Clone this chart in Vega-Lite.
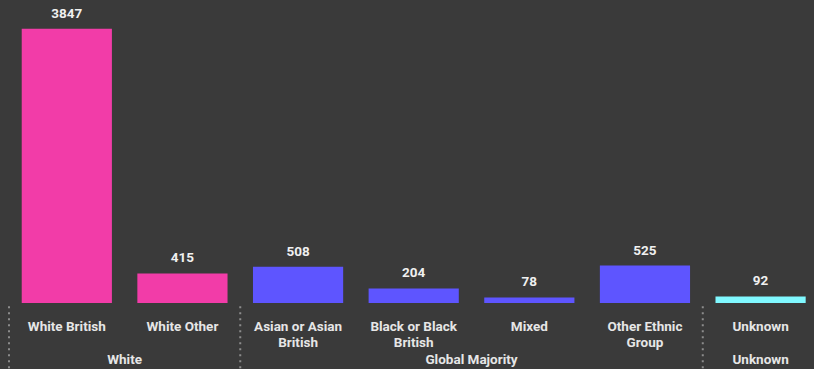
{
  "$schema": "https://vega.github.io/schema/vega-lite/v6.json",
  "width": 805,
  "height": 303,
  "autosize": {"type": "none"},
  "padding": {"left": 9, "right": 0, "top": 0, "bottom": 66},
  "background": "#3a3a3a",
  "config": {
    "view": {"stroke": null},
    "axis": {"domain": false, "ticks": false, "grid": false},
    "text": {"font": "Roboto", "fontWeight": "bold"}
  },
  "datasets": {
    "bars": [
      {"category": "White British", "group": "White", "value": 3847},
      {"category": "White Other", "group": "White", "value": 415},
      {"category": "Asian or Asian British", "group": "Global Majority", "value": 508},
      {"category": "Black or Black British", "group": "Global Majority", "value": 204},
      {"category": "Mixed", "group": "Global Majority", "value": 78},
      {"category": "Other Ethnic Group", "group": "Global Majority", "value": 525},
      {"category": "Unknown", "group": "Unknown", "value": 92}
    ],
    "separators": [
      {"category": "White British"},
      {"category": "Asian or Asian British"},
      {"category": "Unknown"}
    ],
    "groupsEdge": [
      {"category": "White British", "group": "White"},
      {"category": "Black or Black British", "group": "Global Majority"}
    ],
    "groupsCenter": [
      {"category": "Unknown", "group": "Unknown"}
    ]
  },
  "layer": [
    {
      "data": {"name": "bars"},
      "mark": {"type": "bar", "width": {"band": 0.78}},
      "encoding": {
        "x": {
          "field": "category",
          "type": "nominal",
          "scale": {
            "domain": ["White British", "White Other", "Asian or Asian British", "Black or Black British", "Mixed", "Other Ethnic Group", "Unknown"],
            "range": [0, 809.4],
            "paddingInner": 0,
            "paddingOuter": 0
          },
          "axis": {
            "title": null,
            "labelAngle": 0,
            "labelFont": "Roboto",
            "labelFontSize": 13.5,
            "labelFontWeight": "bold",
            "labelColor": "#e6e6e6",
            "labelBaseline": "alphabetic",
            "labelPadding": 27,
            "labelLineHeight": 16,
            "labelOverlap": false,
            "labelFlush": false,
            "labelLimit": 0,
            "labelExpr": "datum.value == 'Asian or Asian British' ? ['Asian or Asian', 'British'] : datum.value == 'Black or Black British' ? ['Black or Black', 'British'] : datum.value == 'Other Ethnic Group' ? ['Other Ethnic', 'Group'] : datum.value"
          }
        },
        "y": {
          "field": "value",
          "type": "quantitative",
          "scale": {"domain": [0, 4251], "nice": false},
          "axis": null
        },
        "color": {
          "field": "group",
          "type": "nominal",
          "scale": {"domain": ["White", "Global Majority", "Unknown"], "range": ["#f23ca8", "#5e55ff", "#80f8ff"]},
          "legend": null
        }
      }
    },
    {
      "data": {"name": "bars"},
      "mark": {"type": "text", "baseline": "alphabetic", "dy": -11, "fontSize": 13.5, "color": "#f0f0f0"},
      "encoding": {
        "x": {"field": "category", "type": "nominal"},
        "y": {"field": "value", "type": "quantitative"},
        "text": {"field": "value", "type": "quantitative"}
      }
    },
    {
      "data": {"name": "separators"},
      "mark": {"type": "rule", "color": "#8c8c8c", "strokeWidth": 2, "strokeDash": [2, 4], "clip": false},
      "encoding": {
        "x": {"field": "category", "type": "nominal", "bandPosition": 0},
        "y": {"datum": -45, "type": "quantitative"},
        "y2": {"datum": -1000}
      }
    },
    {
      "data": {"name": "groupsEdge"},
      "mark": {"type": "text", "baseline": "alphabetic", "dy": 61, "fontSize": 13.5, "color": "#e6e6e6"},
      "encoding": {
        "x": {"field": "category", "type": "nominal", "bandPosition": 1},
        "y": {"datum": 0, "type": "quantitative"},
        "text": {"field": "group"}
      }
    },
    {
      "data": {"name": "groupsCenter"},
      "mark": {"type": "text", "baseline": "alphabetic", "dy": 61, "fontSize": 13.5, "color": "#e6e6e6"},
      "encoding": {
        "x": {"field": "category", "type": "nominal", "bandPosition": 0.5},
        "y": {"datum": 0, "type": "quantitative"},
        "text": {"field": "group"}
      }
    }
  ]
}
